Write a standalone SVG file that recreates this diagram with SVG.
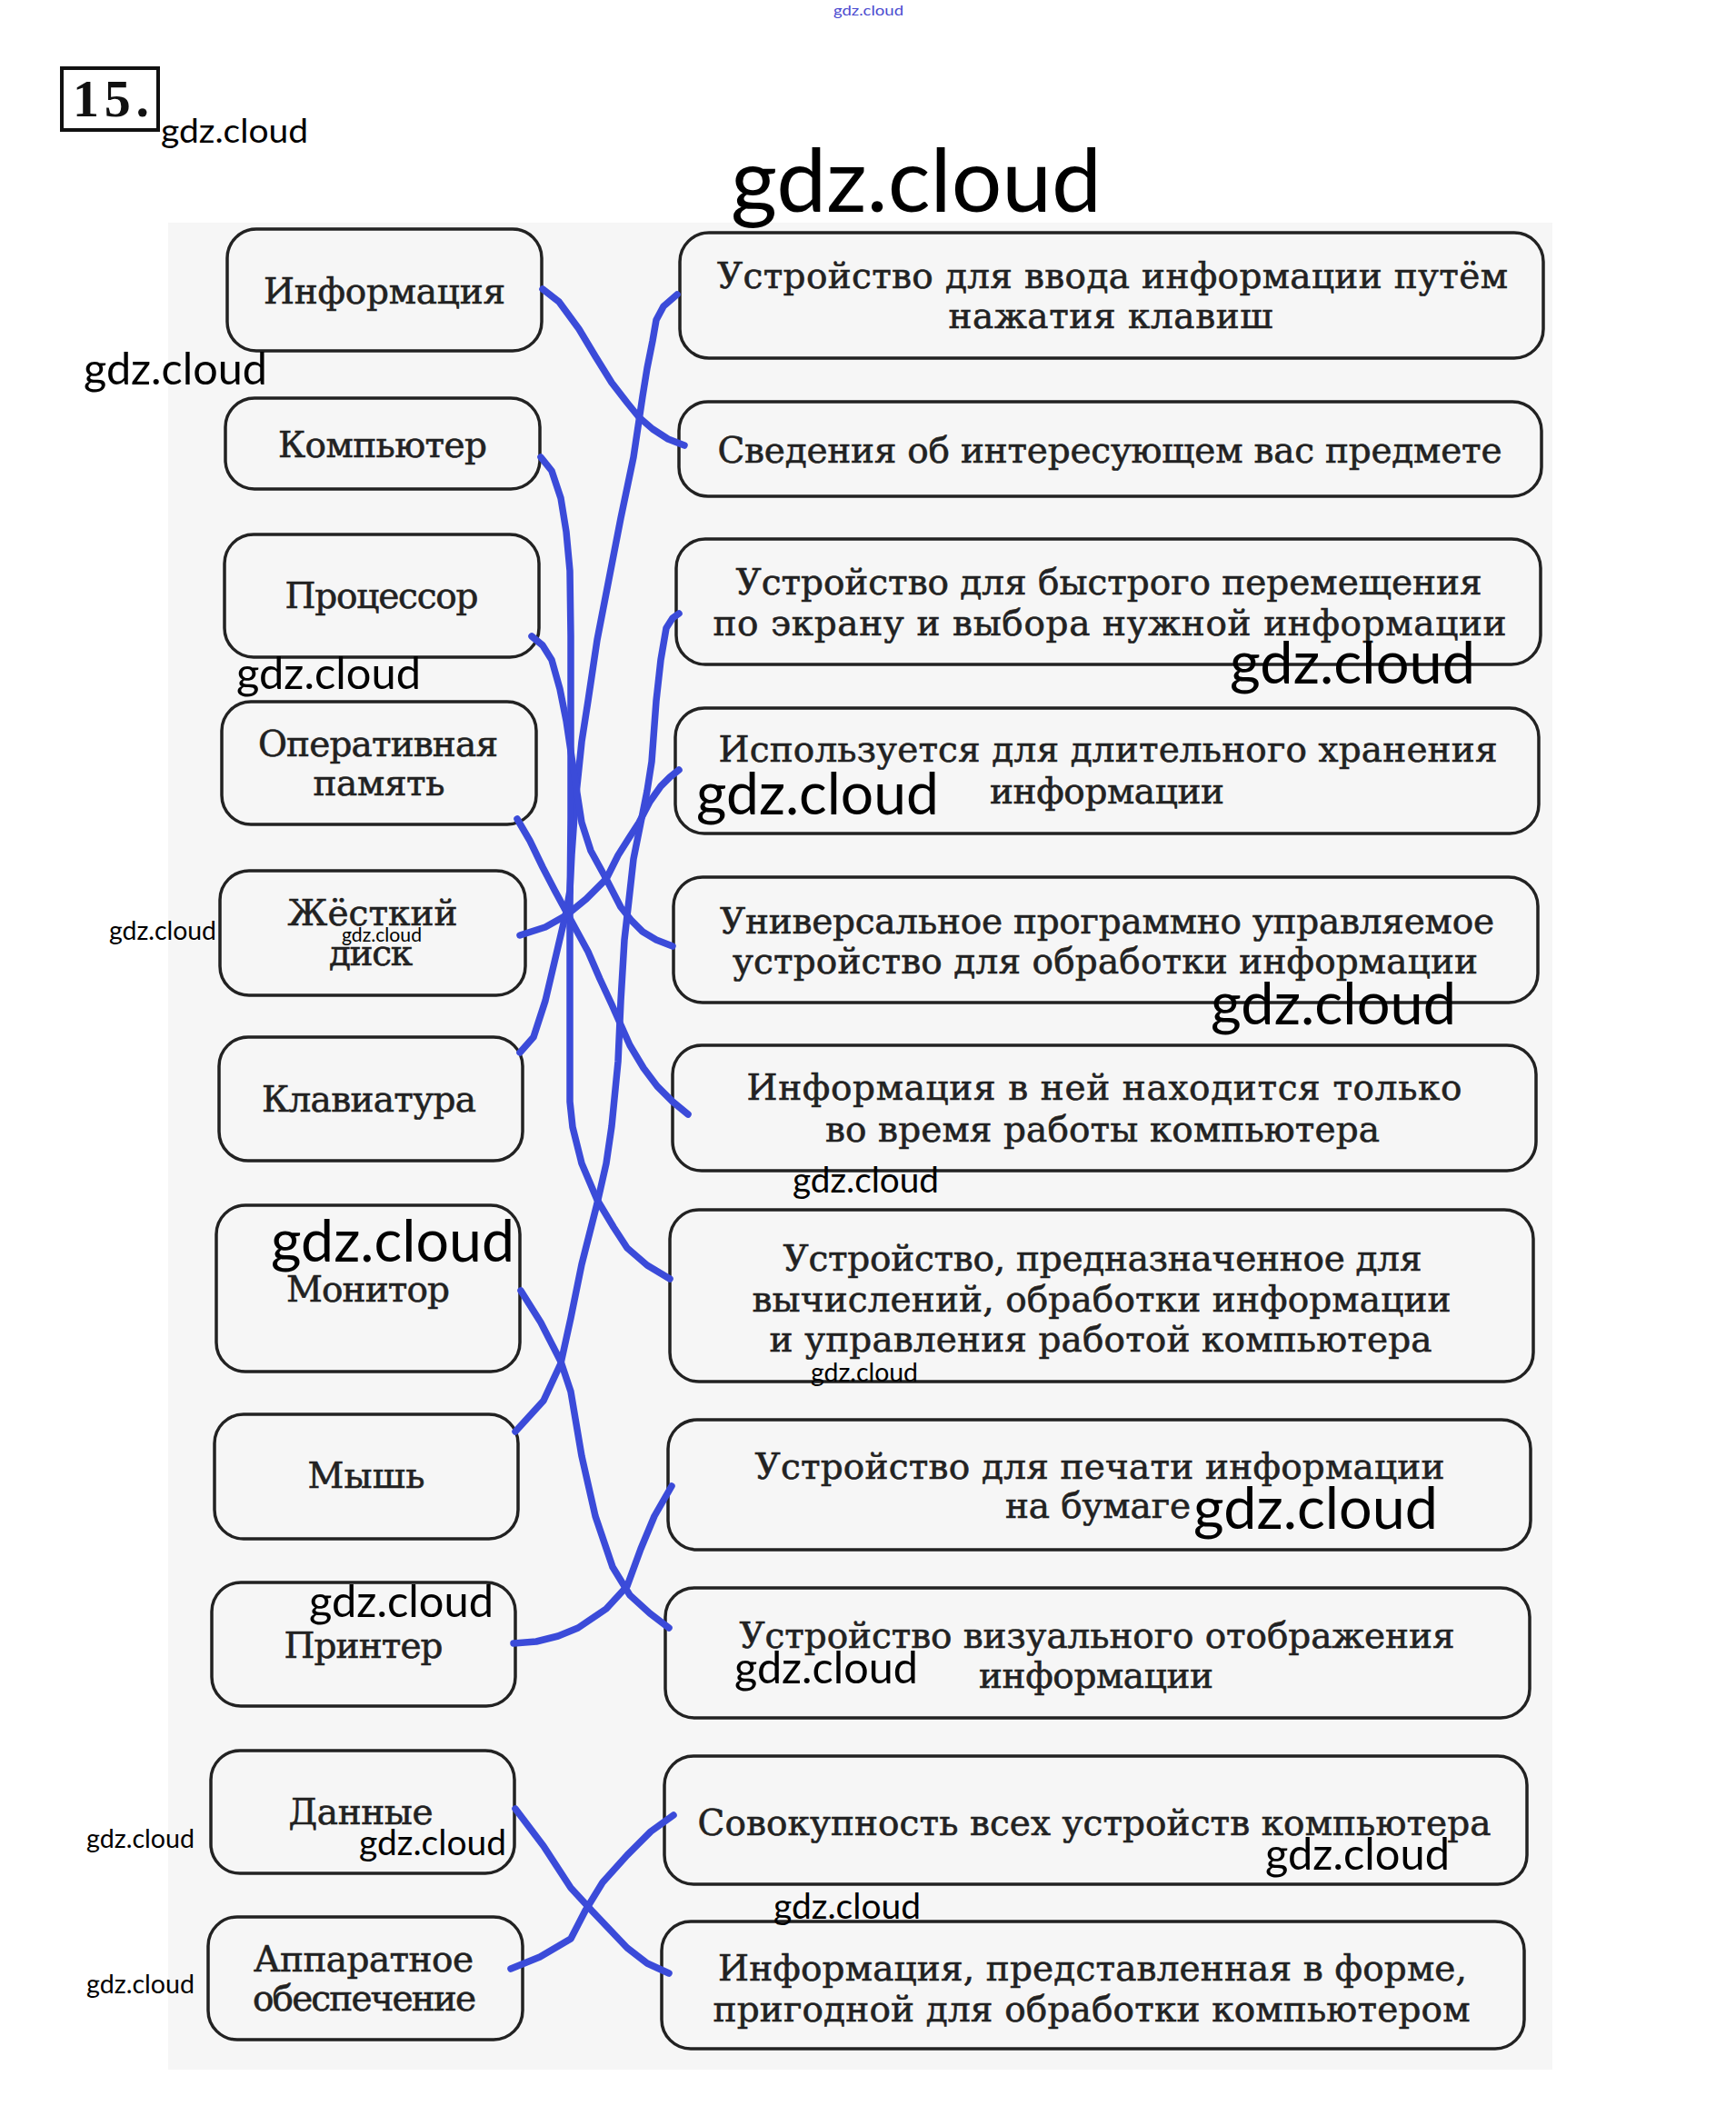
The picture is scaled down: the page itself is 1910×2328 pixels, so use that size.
<svg xmlns="http://www.w3.org/2000/svg" width="1910" height="2328" viewBox="0 0 1910 2328">
<style>
.box{fill:none;stroke:#222;stroke-width:3.5}
.t{font-family:"DejaVu Serif","Liberation Serif",serif;font-size:39px;fill:#222;stroke:#222;stroke-width:0.6;text-anchor:middle}
.lnk{fill:none;stroke:#3b4bd9;stroke-width:7.5;stroke-linecap:round;stroke-linejoin:round}
.wm{font-family:Lato,"Open Sans",sans-serif;fill:#000}
</style>
<rect x="0" y="0" width="1910" height="2328" fill="#fff"/>
<rect x="185" y="245" width="1523" height="2032" fill="#f6f6f6"/>
<g id="num">
<rect x="68" y="75" width="106" height="68" fill="#fff" stroke="#111" stroke-width="4"/>
<text x="80" y="128" font-family="Liberation Serif,serif" font-weight="bold" font-size="58" fill="#111" textLength="84">15.</text>
</g>
<g id="L1"><rect class="box" x="250" y="252" width="346" height="134" rx="32"/><text class="t" x="423" y="334" textLength="266">Информация</text></g>
<g id="L2"><rect class="box" x="248" y="438" width="346" height="100" rx="32"/><text class="t" x="421" y="503" textLength="230">Компьютер</text></g>
<g id="L3"><rect class="box" x="247" y="588" width="346" height="135" rx="32"/><text class="t" x="420" y="669" textLength="213">Процессор</text></g>
<g id="L4"><rect class="box" x="244" y="772" width="346" height="135" rx="32"/><text class="t" x="416" y="832" textLength="264">Оперативная</text><text class="t" x="417" y="875" textLength="145">память</text></g>
<g id="L5"><rect class="box" x="242" y="958" width="336" height="137" rx="32"/><text class="t" x="410" y="1018" textLength="187">Жёсткий</text><text class="t" x="408" y="1062" textLength="92">диск</text></g>
<g id="L6"><rect class="box" x="241" y="1141" width="334" height="136" rx="32"/><text class="t" x="406" y="1223" textLength="236">Клавиатура</text></g>
<g id="L7"><rect class="box" x="238" y="1326" width="334" height="183" rx="32"/><text class="t" x="405" y="1432" textLength="180">Монитор</text></g>
<g id="L8"><rect class="box" x="236" y="1556" width="334" height="137" rx="32"/><text class="t" x="403" y="1637" textLength="129">Мышь</text></g>
<g id="L9"><rect class="box" x="233" y="1741" width="334" height="136" rx="32"/><text class="t" x="400" y="1824" textLength="175">Принтер</text></g>
<g id="L10"><rect class="box" x="232" y="1926" width="334" height="135" rx="32"/><text class="t" x="397" y="2007" textLength="159">Данные</text></g>
<g id="L11"><rect class="box" x="229" y="2109" width="346" height="135" rx="32"/><text class="t" x="400" y="2169" textLength="242">Аппаратное</text><text class="t" x="401" y="2212" textLength="246">обеспечение</text></g>
<g id="R1"><rect class="box" x="748" y="256" width="950" height="138" rx="32"/><text class="t" x="1224" y="317" textLength="870">Устройство для ввода информации путём</text><text class="t" x="1222" y="361" textLength="357">нажатия клавиш</text></g>
<g id="R2"><rect class="box" x="747" y="442" width="949" height="104" rx="32"/><text class="t" x="1221" y="509" textLength="863">Сведения об интересующем вас предмете</text></g>
<g id="R3"><rect class="box" x="744" y="593" width="951" height="138" rx="32"/><text class="t" x="1220" y="654" textLength="821">Устройство для быстрого перемещения</text><text class="t" x="1221" y="699" textLength="873">по экрану и выбора нужной информации</text></g>
<g id="R4"><rect class="box" x="743" y="779" width="950" height="138" rx="32"/><text class="t" x="1219" y="838" textLength="857">Используется для длительного хранения</text><text class="t" x="1218" y="884" textLength="258">информации</text></g>
<g id="R5"><rect class="box" x="741" y="965" width="951" height="138" rx="32"/><text class="t" x="1218" y="1027" textLength="852">Универсальное программно управляемое</text><text class="t" x="1216" y="1071" textLength="820">устройство для обработки информации</text></g>
<g id="R6"><rect class="box" x="740" y="1150" width="950" height="138" rx="32"/><text class="t" x="1215" y="1210" textLength="787">Информация в ней находится только</text><text class="t" x="1213" y="1256" textLength="610">во время работы компьютера</text></g>
<g id="R7"><rect class="box" x="737" y="1331" width="950" height="189" rx="32"/><text class="t" x="1213" y="1398" textLength="703">Устройство, предназначенное для</text><text class="t" x="1212" y="1443" textLength="769">вычислений, обработки информации</text><text class="t" x="1211" y="1487" textLength="729">и управления работой компьютера</text></g>
<g id="R8"><rect class="box" x="735" y="1562" width="949" height="143" rx="32"/><text class="t" x="1210" y="1627" textLength="759">Устройство для печати информации</text><text class="t" x="1208" y="1670" textLength="204">на бумаге</text></g>
<g id="R9"><rect class="box" x="732" y="1747" width="951" height="143" rx="32"/><text class="t" x="1207" y="1813" textLength="787">Устройство визуального отображения</text><text class="t" x="1206" y="1857" textLength="258">информации</text></g>
<g id="R10"><rect class="box" x="731" y="1932" width="949" height="141" rx="32"/><text class="t" x="1204" y="2019" textLength="873">Совокупность всех устройств компьютера</text></g>
<g id="R11"><rect class="box" x="728" y="2114" width="949" height="140" rx="32"/><text class="t" x="1202" y="2179" textLength="824">Информация, представленная в форме,</text><text class="t" x="1201" y="2224" textLength="833">пригодной для обработки компьютером</text></g>
<g id="connectors">
<polyline class="lnk" points="597,318 615,332 637,362 655,392 673,421 690,443 703,459 718,472 735,483 753,490"/>
<polyline class="lnk" points="745,324 730,337 722,352 718,375 712,405 707,436 697,503 683,570 670,637 657,704 647,771 640,816 633,883 629,940 627,980 623,1003 612,1050 600,1101 587,1141 572,1158"/>
<polyline class="lnk" points="595,503 607,518 617,548 623,585 627,628 628,700 628,800 628,900 627,1000 627,1100 627,1212 630,1240 640,1280 657,1320 675,1350 690,1373 712,1392 737,1407"/>
<polyline class="lnk" points="585,700 597,710 607,726 616,758 623,793 633,860 640,905 650,936 667,967 683,998 695,1013 707,1025 722,1034 740,1041"/>
<polyline class="lnk" points="569,901 583,925 597,954 610,979 623,1003 635,1025 647,1047 660,1077 673,1105 693,1150 708,1175 723,1195 740,1212 757,1226"/>
<polyline class="lnk" points="572,1029 600,1020 623,1007 645,989 667,967 680,941 692,922 703,905 715,882 727,865 737,855 747,847"/>
<polyline class="lnk" points="567,1575 598,1541 617,1500 628,1450 640,1391 657,1324 667,1280 673,1239 680,1168 683,1101 687,1034 692,990 697,945 706,900 712,870 717,838 722,771 727,726 733,691 740,680 747,675"/>
<polyline class="lnk" points="573,1420 595,1455 617,1498 628,1531 640,1602 655,1668 674,1724 693,1755 715,1775 736,1791"/>
<polyline class="lnk" points="565,1808 590,1806 614,1800 636,1791 667,1770 690,1745 705,1704 720,1668 739,1635"/>
<polyline class="lnk" points="567,1990 598,2031 628,2077 651,2102 690,2143 712,2160 736,2171"/>
<polyline class="lnk" points="562,2166 594,2153 628,2133 644,2102 663,2071 690,2041 716,2015 741,1997"/>
</g>
<g id="watermarks">
<text class="wm" x="917" y="17" font-size="16" style="fill:#4b4bd0" textLength="77" lengthAdjust="spacingAndGlyphs">gdz.cloud</text>
<text class="wm" x="177" y="157" font-size="37" textLength="162" lengthAdjust="spacingAndGlyphs">gdz.cloud</text>
<text class="wm" x="804" y="233" font-size="97" textLength="408" lengthAdjust="spacingAndGlyphs">gdz.cloud</text>
<text class="wm" x="92" y="423" font-size="48" textLength="202" lengthAdjust="spacingAndGlyphs">gdz.cloud</text>
<text class="wm" x="260" y="758" font-size="48" textLength="203" lengthAdjust="spacingAndGlyphs">gdz.cloud</text>
<text class="wm" x="1353" y="752" font-size="64" textLength="270" lengthAdjust="spacingAndGlyphs">gdz.cloud</text>
<text class="wm" x="766" y="896" font-size="64" textLength="267" lengthAdjust="spacingAndGlyphs">gdz.cloud</text>
<text class="wm" x="120" y="1034" font-size="28" textLength="118" lengthAdjust="spacingAndGlyphs">gdz.cloud</text>
<text class="wm" x="376" y="1036" font-size="21" textLength="88" lengthAdjust="spacingAndGlyphs">gdz.cloud</text>
<text class="wm" x="1332" y="1127" font-size="64" textLength="270" lengthAdjust="spacingAndGlyphs">gdz.cloud</text>
<text class="wm" x="872" y="1312" font-size="38" textLength="161" lengthAdjust="spacingAndGlyphs">gdz.cloud</text>
<text class="wm" x="298" y="1388" font-size="64" textLength="268" lengthAdjust="spacingAndGlyphs">gdz.cloud</text>
<text class="wm" x="892" y="1520" font-size="28" textLength="118" lengthAdjust="spacingAndGlyphs">gdz.cloud</text>
<text class="wm" x="1313" y="1682" font-size="64" textLength="269" lengthAdjust="spacingAndGlyphs">gdz.cloud</text>
<text class="wm" x="340" y="1779" font-size="48" textLength="203" lengthAdjust="spacingAndGlyphs">gdz.cloud</text>
<text class="wm" x="808" y="1852" font-size="48" textLength="202" lengthAdjust="spacingAndGlyphs">gdz.cloud</text>
<text class="wm" x="95" y="2033" font-size="28" textLength="119" lengthAdjust="spacingAndGlyphs">gdz.cloud</text>
<text class="wm" x="395" y="2041" font-size="38" textLength="162" lengthAdjust="spacingAndGlyphs">gdz.cloud</text>
<text class="wm" x="1392" y="2057" font-size="48" textLength="203" lengthAdjust="spacingAndGlyphs">gdz.cloud</text>
<text class="wm" x="851" y="2111" font-size="38" textLength="162" lengthAdjust="spacingAndGlyphs">gdz.cloud</text>
<text class="wm" x="95" y="2193" font-size="28" textLength="119" lengthAdjust="spacingAndGlyphs">gdz.cloud</text>
</g>
</svg>
